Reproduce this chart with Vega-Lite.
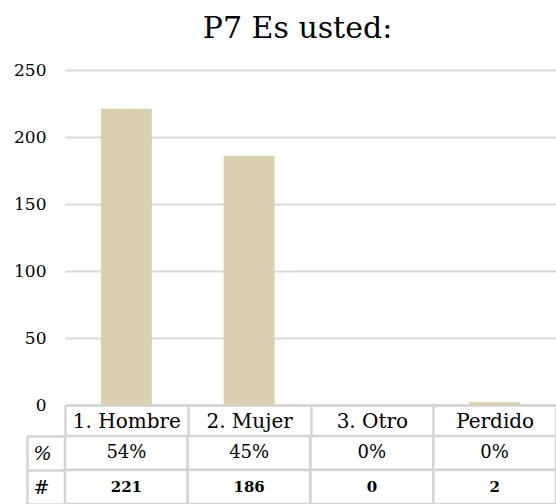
{
  "$schema": "https://vega.github.io/schema/vega-lite/v6.json",
  "padding": {"top": 14, "left": 0, "right": 0, "bottom": 0},
  "background": "white",
  "config": {"view": {"stroke": null}, "font": "DejaVu Serif"},
  "data": {"values": [
    {"cat": "1. Hombre", "n": 221, "pct": 0.54},
    {"cat": "2. Mujer", "n": 186, "pct": 0.45},
    {"cat": "3. Otro", "n": 0, "pct": 0},
    {"cat": "Perdido", "n": 2, "pct": 0}
  ]},
  "bounds": "flush",
  "spacing": 31,
  "vconcat": [
    {
      "title": {"text": "P7 Es usted:", "fontSize": 30, "fontWeight": "normal", "color": "#000", "dx": -13, "offset": 17, "anchor": "middle", "font": "DejaVu Serif"},
      "width": 491,
      "height": 335,
      "mark": {"type": "bar", "color": "#d8d0b1", "width": {"band": 0.415}},
      "encoding": {
        "x": {"field": "cat", "type": "nominal", "sort": null, "title": null,
          "scale": {"paddingInner": 0, "paddingOuter": 0},
          "axis": {"orient": "bottom", "labelAngle": 0, "domainColor": "#d4d4d4", "domainWidth": 2.5, "tickColor": "#d4d4d4", "tickWidth": 2.5, "tickSize": 31, "tickBand": "extent", "labelBaseline": "middle", "labelPadding": -15, "labelFontSize": 20, "labelColor": "#000", "labelFont": "DejaVu Serif"}},
        "y": {"field": "n", "type": "quantitative", "title": null,
          "scale": {"domain": [0, 250], "nice": false},
          "axis": {"values": [0, 50, 100, 150, 200, 250], "domain": false, "ticks": false, "labelPadding": 19, "labelFontSize": 17, "labelColor": "#000", "labelFont": "DejaVu Serif", "gridColor": "#d9d9d9", "gridWidth": 2, "minExtent": 65, "maxExtent": 65}}
      }
    },
    {
      "width": 491,
      "height": 68,
      "layer": [
        {
          "mark": {"type": "rect", "fill": "white", "stroke": "#d4d4d4", "strokeWidth": 2.5},
          "encoding": {
            "x": {"field": "cat", "type": "nominal", "sort": null, "title": null, "axis": null,
              "scale": {"paddingInner": 0, "paddingOuter": 0}},
            "y": {"datum": "%", "type": "nominal", "title": null,
              "scale": {"domain": ["%", "#"], "paddingInner": 0, "paddingOuter": 0},
              "axis": {"offset": 38, "domainColor": "#d4d4d4", "domainWidth": 2.5, "tickColor": "#d4d4d4", "tickWidth": 2.5, "tickSize": -38, "tickBand": "extent", "labelAlign": "left", "labelPadding": 32, "labelFontSize": 19, "labelColor": "#000", "labelFont": "DejaVu Serif",
                "labelFontStyle": {"condition": {"test": "datum.value == '%'", "value": "italic"}, "value": "normal"}}}
          }
        },
        {
          "mark": {"type": "rect", "fill": "white", "stroke": "#d4d4d4", "strokeWidth": 2.5},
          "encoding": {
            "x": {"field": "cat", "type": "nominal", "sort": null},
            "y": {"datum": "#", "type": "nominal"}
          }
        },
        {
          "mark": {"type": "text", "fontSize": 18, "color": "#000", "font": "DejaVu Serif"},
          "encoding": {
            "x": {"field": "cat", "type": "nominal", "sort": null},
            "y": {"datum": "%", "type": "nominal"},
            "text": {"field": "pct", "type": "quantitative", "format": ".0%"}
          }
        },
        {
          "mark": {"type": "text", "fontSize": 15, "fontWeight": "bold", "color": "#000", "font": "DejaVu Serif"},
          "encoding": {
            "x": {"field": "cat", "type": "nominal", "sort": null},
            "y": {"datum": "#", "type": "nominal"},
            "text": {"field": "n", "type": "quantitative"}
          }
        }
      ]
    }
  ]
}
